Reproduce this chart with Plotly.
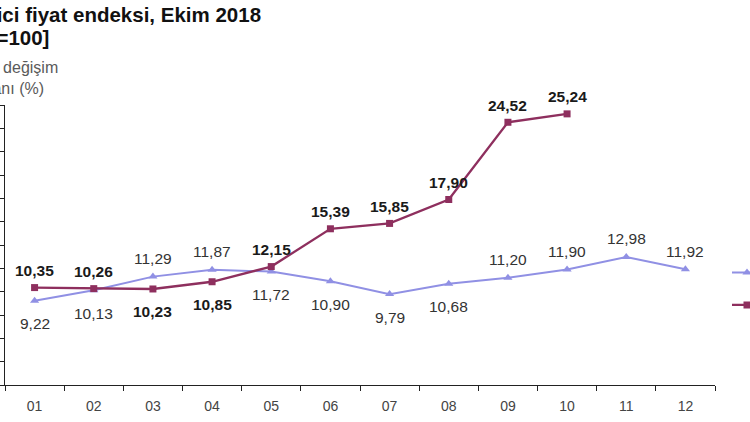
import plotly.graph_objects as go

months = ["01", "02", "03", "04", "05", "06", "07", "08", "09", "10", "11", "12"]
series_2017 = [9.22, 10.13, 11.29, 11.87, 11.72, 10.90, 9.79, 10.68, 11.20, 11.90, 12.98, 11.92]
series_2018 = [10.35, 10.26, 10.23, 10.85, 12.15, 15.39, 15.85, 17.90, 24.52, 25.24]
# label placement: +1 above the point, -1 below
pos_2017 = [-1, -1, 1, 1, -1, -1, -1, -1, 1, 1, 1, 1]
pos_2018 = [1, 1, -1, -1, 1, 1, 1, 1, 1, 1]

title_line1 = "Tüketici fiyat endeksi, Ekim 2018"
title_line2 = "[2003=100]"
ytitle = "Yıllık değişim<br>oranı (%)"

BLUE = "#9090e4"
RED = "#8e2f5e"
FONT = "Liberation Sans, Arial, sans-serif"

fig = go.Figure()
fig.add_trace(go.Scatter(
    x=months, y=series_2017, name="2017", mode="lines+markers",
    line=dict(color=BLUE, width=2),
    marker=dict(symbol="triangle-up", size=8, color=BLUE),
    legendgroup="a",
))
fig.add_trace(go.Scatter(
    x=months[:len(series_2018)], y=series_2018, name="2018", mode="lines+markers",
    line=dict(color=RED, width=2.3),
    marker=dict(symbol="square", size=7, color=RED),
    legendgroup="b",
))

annotations = []
for i, (v, p) in enumerate(zip(series_2017, pos_2017)):
    annotations.append(dict(
        x=i, y=v, xref="x", yref="y", text=f"{v:.2f}".replace(".", ","),
        showarrow=False, yshift=18 if p > 0 else -23,
        font=dict(family=FONT, size=15.5, color="#333333"),
    ))
for i, (v, p) in enumerate(zip(series_2018, pos_2018)):
    annotations.append(dict(
        x=i, y=v, xref="x", yref="y", text=f"<b>{v:.2f}</b>".replace(".", ","),
        showarrow=False, yshift=17 if p > 0 else -23,
        font=dict(family=FONT, size=15.5, color="#1a1a1a"),
    ))

annotations += [
    dict(x=0, y=1, xref="paper", yref="paper", xanchor="left", yanchor="middle",
         xshift=-65, yshift=91, showarrow=False, text=f"<b>{title_line1}</b>",
         font=dict(family=FONT, size=20.5, color="#111111")),
    dict(x=0, y=1, xref="paper", yref="paper", xanchor="left", yanchor="middle",
         xshift=-63, yshift=68, showarrow=False, text=f"<b>{title_line2}</b>",
         font=dict(family=FONT, size=20.5, color="#111111")),
    dict(x=0, y=1, xref="paper", yref="paper", xanchor="center", yanchor="middle",
         xshift=5.5, yshift=27, showarrow=False, text=ytitle, align="center",
         font=dict(family=FONT, size=16, color="#5a5a5a")),
]

fig.update_layout(
    width=750, height=422,
    margin=dict(l=5, r=35, t=105, b=37, autoexpand=False),
    paper_bgcolor="white", plot_bgcolor="white",
    font=dict(family=FONT, size=14, color="#333333"),
    showlegend=True,
    legend=dict(x=1.0169, xanchor="left", y=0.46, yanchor="top",
                tracegroupgap=10, font=dict(size=15, color="#333333"),
                bgcolor="rgba(0,0,0,0)"),
    annotations=annotations,
)
fig.update_xaxes(
    type="category", range=[-0.5, 11.5], showgrid=False, zeroline=False,
    showline=True, linecolor="#222222", linewidth=1,
    ticks="outside", tickson="boundaries", ticklen=5, tickcolor="#222222",
    ticklabelstandoff=8,
    tickfont=dict(family=FONT, size=14, color="#444444"),
)
fig.update_yaxes(
    range=[2, 26], tick0=2, dtick=2, showgrid=False, zeroline=False,
    showline=True, linecolor="#222222", linewidth=1,
    ticks="outside", ticklen=5, tickcolor="#222222", showticklabels=False,
)

fig.write_html("out.html")
